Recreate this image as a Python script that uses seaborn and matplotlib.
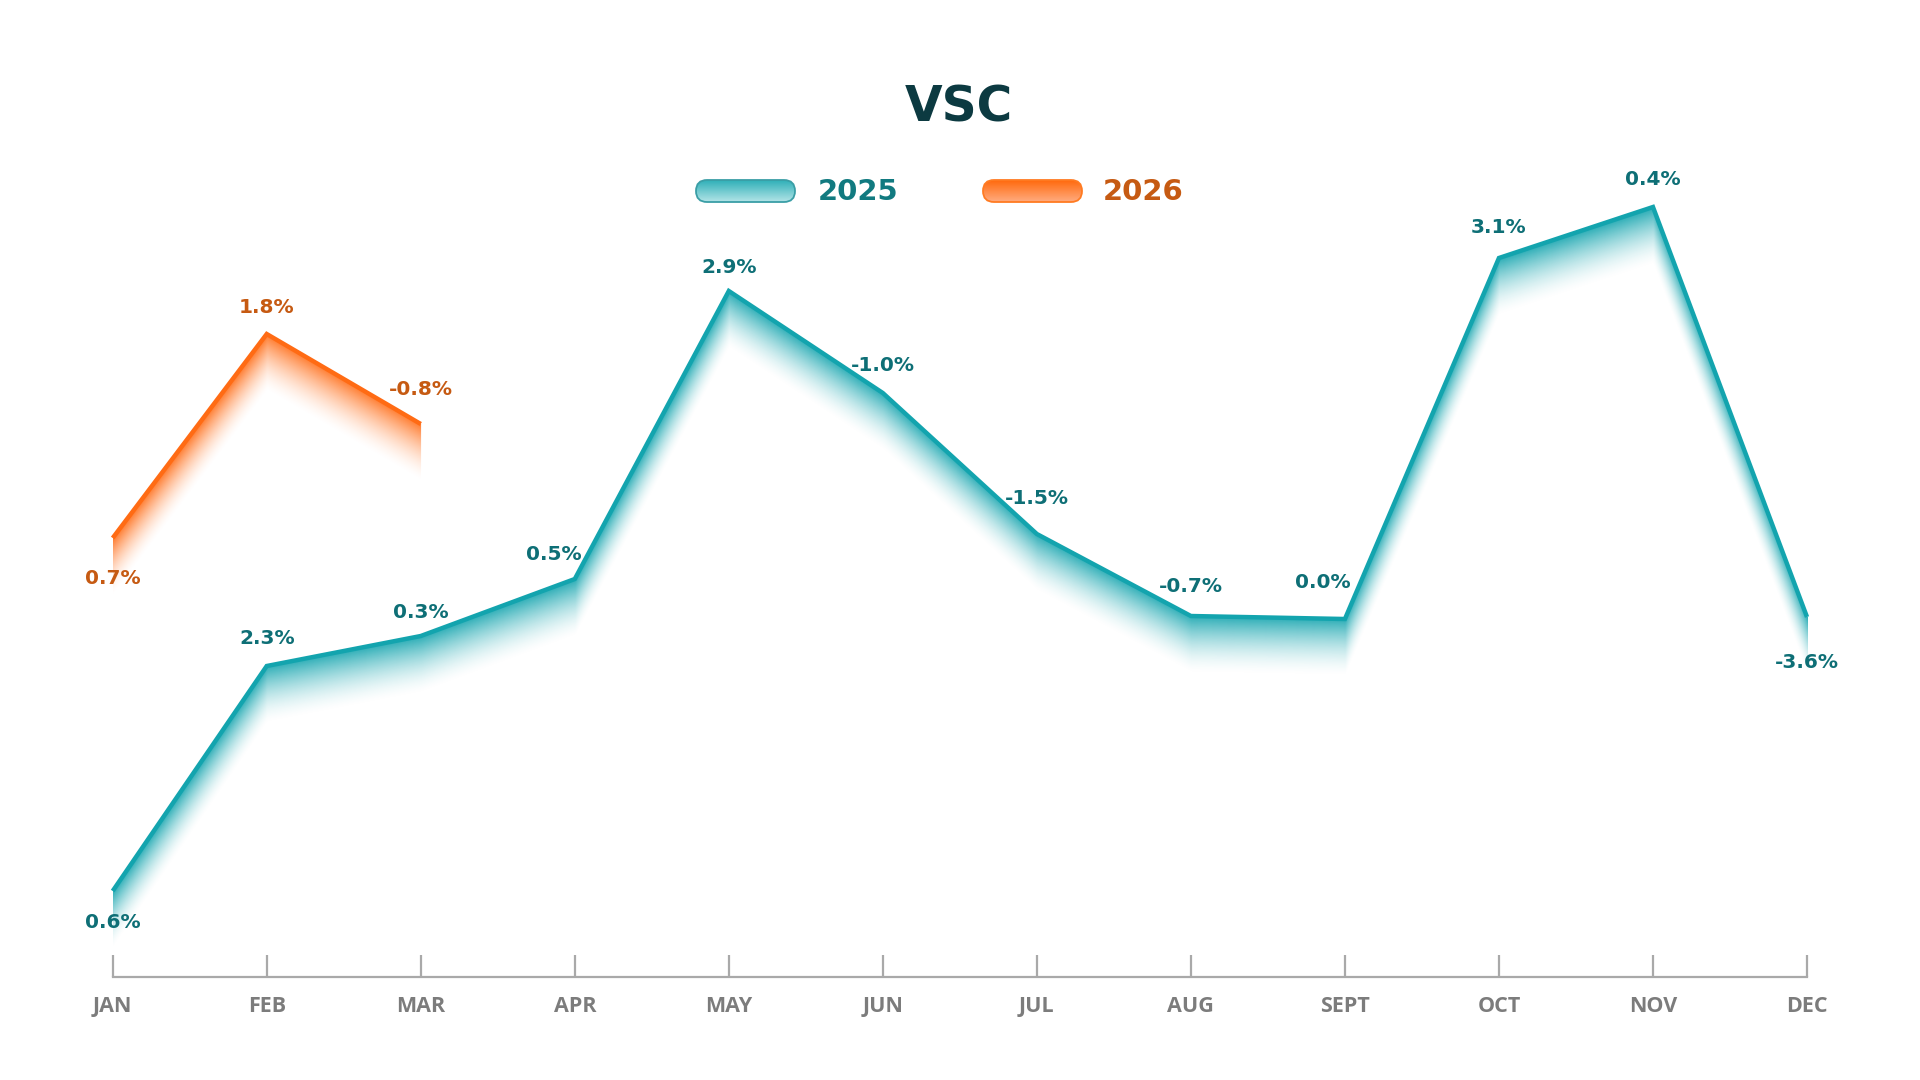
import numpy as np
import pandas as pd
import matplotlib
matplotlib.use("Agg")
import matplotlib.pyplot as plt
import seaborn as sns
from matplotlib.patches import FancyBboxPatch
from matplotlib.colors import to_rgb, LinearSegmentedColormap

# ---------------- data ----------------
months = ["JAN", "FEB", "MAR", "APR", "MAY", "JUN", "JUL", "AUG", "SEPT", "OCT", "NOV", "DEC"]
# relative level of each line (no y-axis in source; read as height above baseline)
level_2025 = [86, 311, 341, 398, 686, 584, 443, 361, 358, 719, 770, 360]
level_2026 = [439, 643, 553]
labels_2025 = ["0.6%", "2.3%", "0.3%", "0.5%", "2.9%", "-1.0%", "-1.5%", "-0.7%", "0.0%", "3.1%", "0.4%", "-3.6%"]
labels_2026 = ["0.7%", "1.8%", "-0.8%"]
series_names = ["2025", "2026"]
title = "VSC"

# ---------------- style ----------------
TEAL = "#13a4ae"
ORANGE = "#ff6b14"
TEAL_TXT = "#0e6f76"
ORANGE_TXT = "#c65a12"
GREY = "#a9a9a9"
GREY_TXT = "#7c7c7c"
TITLE_C = "#0c3a41"
FONT = ["DejaVu Sans"]
MONTH_FONT = ["Open Sans", "DejaVu Sans"]

# label offsets in pixels (dx, dy up)
off_2025 = [(0, -31), (0, 27), (0, 23), (-21, 24), (0, 24), (0, 28), (0, 36), (0, 29),
            (-22, 36), (0, 31), (0, 28), (0, -45)]
off_2026 = [(0, -41), (0, 27), (0, 35)]

sns.set_style("white")
plt.rcParams["font.family"] = FONT

W, H = 1920, 1080
fig = plt.figure(figsize=(19.2, 10.8), dpi=100)
x0_px, x1_px, base_px, top_px = 112.7, 1807.0, 977.0, 100.0
ax = fig.add_axes([x0_px / W, (H - base_px) / H, (x1_px - x0_px) / W, (base_px - top_px) / H])
YMAX = base_px - top_px

df = pd.concat([
    pd.DataFrame({"pos": np.arange(len(level_2025)), "level": level_2025, "year": series_names[0]}),
    pd.DataFrame({"pos": np.arange(len(level_2026)), "level": level_2026, "year": series_names[1]}),
])

# shadow gradients below lines
ncols, nrows = 1700, int(YMAX)
gx = np.linspace(0, 11, ncols)
gy = np.linspace(0, YMAX, nrows)
GX, GY = np.meshgrid(gx, gy)
SH = 58.0
for vals, col in [(level_2025, TEAL), (level_2026, ORANGE)]:
    pos = np.arange(len(vals))
    yl = np.interp(gx, pos, vals)
    inside = (gx >= pos[0]) & (gx <= pos[-1])
    d = yl[None, :] - GY
    a = np.where((d >= 0) & (d <= SH), 0.9 * (1 - d / SH) ** 1.7, 0.0)
    a[:, ~inside] = 0
    img = np.zeros((nrows, ncols, 4))
    img[..., :3] = to_rgb(col)
    img[..., 3] = a
    ax.imshow(img, extent=(0, 11, 0, YMAX), origin="lower", aspect="auto",
              interpolation="bilinear", zorder=1)

sns.lineplot(data=df, x="pos", y="level", hue="year",
             palette={series_names[0]: TEAL, series_names[1]: ORANGE},
             linewidth=3.2, legend=False, ax=ax, zorder=3)
for ln in ax.lines:
    ln.set_clip_on(False)
    ln.set_solid_joinstyle("miter")
    ln.set_solid_capstyle("butt")

ax.set_xlim(0, 11)
ax.set_ylim(0, YMAX)

# data labels
for vals, labs, offs, c in [(level_2025, labels_2025, off_2025, TEAL_TXT),
                            (level_2026, labels_2026, off_2026, ORANGE_TXT)]:
    for i, (v, t, (dx, dy)) in enumerate(zip(vals, labs, offs)):
        ax.annotate(t, (i, v), xytext=(dx * 0.72, dy * 0.72), textcoords="offset points",
                    ha="center", va="center", fontsize=14.5, fontweight="bold", color=c,
                    family=FONT, zorder=5, annotation_clip=False)

# axes styling
for s in ["left", "right", "top"]:
    ax.spines[s].set_visible(False)
ax.spines["bottom"].set_color(GREY)
ax.spines["bottom"].set_linewidth(1.6)
ax.set_xticks(np.arange(len(months)))
ax.set_xticklabels(months, fontsize=15.5, color=GREY_TXT, fontweight="bold", family=MONTH_FONT)
ax.tick_params(axis="x", bottom=True, direction="in", length=16, width=1.6, color=GREY, pad=13.5)
ax.set_yticks([])
ax.set_xlabel("")
ax.set_ylabel("")

# overlay for title and legend
ov = fig.add_axes([0, 0, 1, 1], zorder=10)
ov.set_xlim(0, W)
ov.set_ylim(H, 0)
ov.axis("off")
ov.patch.set_alpha(0)

ov.text(959, 108, title, ha="center", va="center", fontsize=35, fontweight="bold",
        color=TITLE_C, family=FONT)

def pill(xl, xr, yc, h, top, bottom, edge):
    cmap = LinearSegmentedColormap.from_list("g", [top, bottom])
    grad = np.linspace(0, 1, 64)[:, None]
    im = ov.imshow(grad, cmap=cmap, extent=(xl, xr, yc + h / 2, yc - h / 2),
                   aspect="auto", zorder=11, origin="upper")
    clipp = FancyBboxPatch((xl, yc - h / 2), xr - xl, h,
                           boxstyle=f"round,pad=0,rounding_size={h/2}",
                           facecolor="none", edgecolor=edge, linewidth=1.3, zorder=12)
    ov.add_patch(clipp)
    im.set_clip_path(clipp)

pill(696, 795, 191, 22, "#2fb0b8", "#b3e4e7", "#3a9ea6")
ov.text(818, 192, series_names[0], ha="left", va="center", fontsize=21, fontweight="bold",
        color="#117a80", family=FONT)
pill(983, 1082, 191, 22, "#ff6a0d", "#ffab80", "#ff7b22")
ov.text(1103, 192, series_names[1], ha="left", va="center", fontsize=21, fontweight="bold",
        color=ORANGE_TXT, family=FONT)
ov.set_xlim(0, W)
ov.set_ylim(H, 0)

fig.savefig("out.png", dpi=100, facecolor="white")
